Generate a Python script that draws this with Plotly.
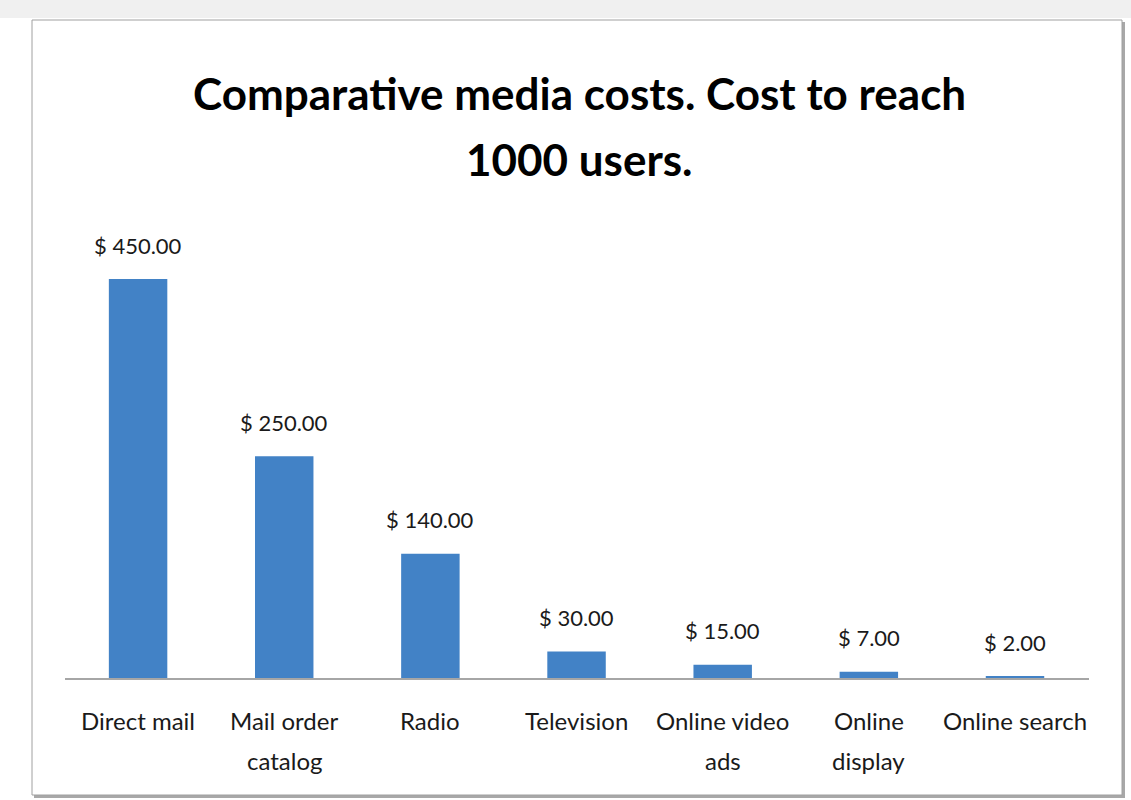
import plotly.graph_objects as go

# Cost to reach 1000 users, by medium (USD)
categories = ["Direct mail", "Mail order catalog", "Radio", "Television",
              "Online video ads", "Online display", "Online search"]
tick_lines = [["Direct mail"], ["Mail order", "catalog"], ["Radio"], ["Television"],
              ["Online video", "ads"], ["Online", "display"], ["Online search"]]
costs = [450, 250, 140, 30, 15, 7, 2]
title_lines = ["Comparative media costs. Cost to reach", "1000 users."]

W, H = 1131, 800
BAR_COLOR = "#4282c6"
TEXT_COLOR = "#1a1a1a"
FONT = "Lato"


def py(px):
    """Convert a pixel row (from top) to paper y."""
    return (H - px) / H


def px_x(px):
    return px / W


fig = go.Figure()
fig.add_trace(go.Bar(
    x=categories,
    y=costs,
    marker=dict(color=BAR_COLOR, line=dict(width=0)),
    hoverinfo="skip",
))

annotations = []
# value labels above each bar
for cat, v in zip(categories, costs):
    annotations.append(dict(
        x=cat, y=v, xref="x", yref="y", text=f"$ {v:.2f}",
        showarrow=False, yanchor="middle", yshift=34,
        font=dict(family=FONT, size=22, color=TEXT_COLOR),
    ))
# category labels below the axis, one annotation per line
for cat, lines in zip(categories, tick_lines):
    for i, line in enumerate(lines):
        annotations.append(dict(
            x=cat, y=py(720 + 40 * i), xref="x", yref="paper", text=line,
            showarrow=False, yanchor="middle",
            font=dict(family=FONT, size=24, color=TEXT_COLOR),
        ))
# two-line bold title
for i, line in enumerate(title_lines):
    annotations.append(dict(
        x=px_x(579), y=py(93 + 66 * i), xref="paper", yref="paper",
        text=f"<b>{line}</b>", showarrow=False, yanchor="middle", xanchor="center",
        font=dict(family=FONT, size=44, color="#000000"),
    ))

shapes = [
    # page strip above the chart frame
    dict(type="rect", xref="paper", yref="paper", x0=0, x1=1, y0=py(18), y1=1,
         fillcolor="#f0f0f0", line=dict(width=0), layer="below"),
    # frame drop shadow (right and bottom)
    dict(type="rect", xref="paper", yref="paper", x0=px_x(34), x1=px_x(1125),
         y0=py(798), y1=py(22), fillcolor="#a8a8a8", line=dict(width=0), layer="below"),
    # chart frame
    dict(type="rect", xref="paper", yref="paper", x0=px_x(32), x1=px_x(1122),
         y0=py(795), y1=py(20), fillcolor="#ffffff",
         line=dict(color="#a0a0a0", width=1), layer="below"),
]

y_top = 450 * (678 - 230) / (678 - 279)

fig.update_layout(
    width=W, height=H,
    margin=dict(l=0, r=0, t=0, b=0),
    paper_bgcolor="#ffffff",
    plot_bgcolor="rgba(0,0,0,0)",
    showlegend=False,
    bargap=0.6,
    annotations=annotations,
    shapes=shapes,
    xaxis=dict(
        domain=[px_x(65), px_x(1089)], type="category",
        showticklabels=False, ticks="", showgrid=False,
        showline=True, linecolor="#a6a6a6", linewidth=2,
    ),
    yaxis=dict(
        domain=[py(678), py(230)], range=[0, y_top],
        visible=False, showgrid=False, zeroline=False,
    ),
)

fig.write_html("out.html")
